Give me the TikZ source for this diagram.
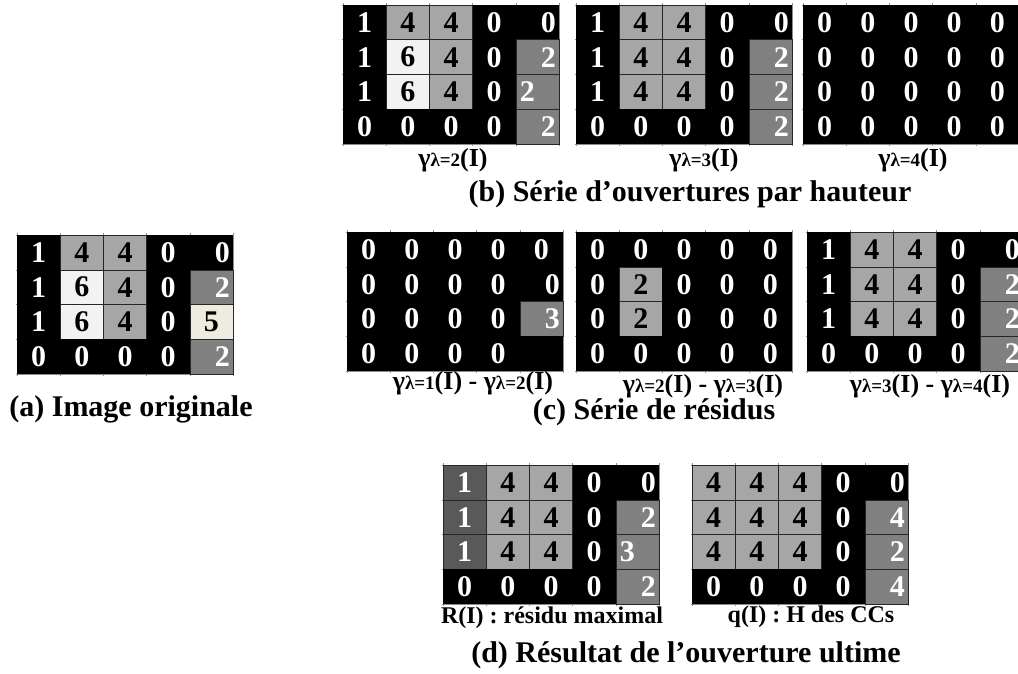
\documentclass[tikz,border=0pt]{standalone}
\usepackage{fontspec}
\setmainfont{Liberation Serif}
\usepackage{tikz}

\definecolor{cellL}{HTML}{A6A6A6}
\definecolor{cellM}{HTML}{808080}
\definecolor{cellW}{HTML}{F2F2F2}
\definecolor{cellC}{HTML}{EEECE1}
\definecolor{cellD}{HTML}{595959}

% one 5x4 grid: name, left, top, rows of value/colour/alignment
\newcommand{\grille}[4]{%
	\begin{scope}[shift={(#2,#3)},x=43.2pt,y=-34.8pt]
		\foreach \k in {0,...,5} \draw[tick] (\k,-0.05) -- (\k,4.05);
		\foreach \k in {0,...,4} \draw[tick] (-0.03,\k) -- (5.03,\k);
		\foreach \row [count=\j] in {#4} {
			\foreach \v/\c/\p [count=\i] in \row {
				\path[f\c] (\i-1,\j-1) rectangle (\i,\j);
				\node[num,t\c,p\p] (#1-\i-\j) at (\i-0.5,\j-0.5) {\v};
			}
		}
	\end{scope}}

% gamma_{lambda=n}(I)
\newcommand{\gl}[1]{γ{\fontsize{19}{19}\selectfont λ=#1}(I)}

\begin{document}
\begin{tikzpicture}[x=1pt,y=-1pt,
	tick/.style={draw=black!45,line width=0.6pt},
	fK/.style={fill=black},
	fL/.style={fill=cellL,draw=black!85,line width=0.6pt},
	fM/.style={fill=cellM,draw=black!85,line width=0.6pt},
	fW/.style={fill=cellW,draw=black!85,line width=0.6pt},
	fC/.style={fill=cellC,draw=black!85,line width=0.6pt},
	fD/.style={fill=cellD,draw=black!85,line width=0.6pt},
	num/.style={inner sep=0pt,font=\fontsize{30}{30}\selectfont\bfseries},
	tK/.style={text=white},
	tL/.style={text=black},
	tM/.style={text=white},
	tW/.style={text=black},
	tC/.style={text=black},
	tD/.style={text=white},
	pc/.style={},
	pr/.style={xshift=11pt},
	pl/.style={xshift=-10pt},
	caption/.style={inner sep=0pt,font=\fontsize{30}{30}\selectfont\bfseries},
	sublab/.style={inner sep=0pt,font=\fontsize{26}{26}\selectfont\bfseries},
	legende/.style={inner sep=0pt,font=\fontsize{24}{24}\selectfont\bfseries}]
	
	\useasboundingbox (0,0) rectangle (1018,674);
	\fill[white] (0,0) rectangle (1018,674);
	
	% (a) original image
	\grille{orig}{17}{235}{
		{1/K/c,4/L/c,4/L/c,0/K/c,0/K/r},
		{1/K/c,6/W/c,4/L/c,0/K/c,2/M/r},
		{1/K/c,6/W/c,4/L/c,0/K/c,5/C/c},
		{0/K/c,0/K/c,0/K/c,0/K/c,2/M/r}}
	\node[caption] (capa) at (131,409) {(a) Image originale};
	
	% (b) openings by height
	\grille{ouv2}{343}{5}{
		{1/K/c,4/L/c,4/L/c,0/K/c,0/K/r},
		{1/K/c,6/W/c,4/L/c,0/K/c,2/M/r},
		{1/K/c,6/W/c,4/L/c,0/K/c,2/M/l},
		{0/K/c,0/K/c,0/K/c,0/K/c,2/M/r}}
	\grille{ouv3}{576}{5}{
		{1/K/c,4/L/c,4/L/c,0/K/c,0/K/r},
		{1/K/c,4/L/c,4/L/c,0/K/c,2/M/r},
		{1/K/c,4/L/c,4/L/c,0/K/c,2/M/r},
		{0/K/c,0/K/c,0/K/c,0/K/c,2/M/r}}
	\grille{ouv4}{803}{5}{
		{0/K/c,0/K/c,0/K/c,0/K/c,0/K/c},
		{0/K/c,0/K/c,0/K/c,0/K/c,0/K/c},
		{0/K/c,0/K/c,0/K/c,0/K/c,0/K/c},
		{0/K/c,0/K/c,0/K/c,0/K/c,0/K/c}}
	\node[sublab] (lb2) at (453,160) {\gl{2}};
	\node[sublab] (lb3) at (704,160) {\gl{3}};
	\node[sublab] (lb4) at (913,160) {\gl{4}};
	\node[caption] (capb) at (690,194) {(b) Série d’ouvertures par hauteur};
	
	% (c) residues
	\grille{res1}{347}{232}{
		{0/K/c,0/K/c,0/K/c,0/K/c,0/K/c},
		{0/K/c,0/K/c,0/K/c,0/K/c,0/K/r},
		{0/K/c,0/K/c,0/K/c,0/K/c,3/M/r},
		{0/K/c,0/K/c,0/K/c,0/K/c,{}/K/c}}
	\grille{res2}{576}{232}{
		{0/K/c,0/K/c,0/K/c,0/K/c,0/K/c},
		{0/K/c,2/L/c,0/K/c,0/K/c,0/K/c},
		{0/K/c,2/L/c,0/K/c,0/K/c,0/K/c},
		{0/K/c,0/K/c,0/K/c,0/K/c,0/K/c}}
	\grille{res3}{807}{232}{
		{1/K/c,4/L/c,4/L/c,0/K/c,0/K/r},
		{1/K/c,4/L/c,4/L/c,0/K/c,2/M/r},
		{1/K/c,4/L/c,4/L/c,0/K/c,2/M/r},
		{0/K/c,0/K/c,0/K/c,0/K/c,2/M/r}}
	\node[sublab] (lc1) at (473,383) {\gl{1}\ -\ \gl{2}};
	\node[sublab] (lc2) at (703,386) {\gl{2}\ -\ \gl{3}};
	\node[sublab] (lc3) at (930,386) {\gl{3}\ -\ \gl{4}};
	\node[caption] (capc) at (654,412) {(c) Série de résidus};
	
	% (d) ultimate opening
	\grille{rmax}{443}{465}{
		{1/D/c,4/L/c,4/L/c,0/K/c,0/K/r},
		{1/D/c,4/L/c,4/L/c,0/K/c,2/M/r},
		{1/D/c,4/L/c,4/L/c,0/K/c,3/M/l},
		{0/K/c,0/K/c,0/K/c,0/K/c,2/M/r}}
	\grille{qcc}{692}{465}{
		{4/L/c,4/L/c,4/L/c,0/K/c,0/K/r},
		{4/L/c,4/L/c,4/L/c,0/K/c,4/M/r},
		{4/L/c,4/L/c,4/L/c,0/K/c,2/M/r},
		{0/K/c,0/K/c,0/K/c,0/K/c,4/M/r}}
	\node[legende] (ld1) at (552,618) {R(I) : résidu maximal};
	\node[legende] (ld2) at (811,617) {q(I) : H des CCs};
	\node[caption] (capd) at (686,655) {(d) Résultat de l’ouverture ultime};
\end{tikzpicture}
\end{document}
